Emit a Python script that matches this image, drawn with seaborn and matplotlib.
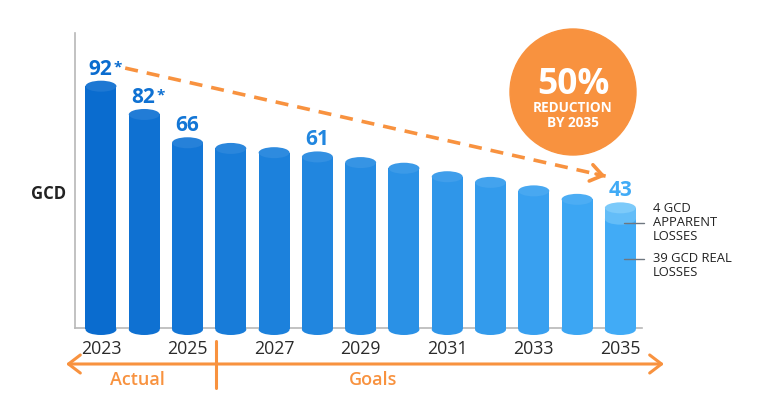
import numpy as np
import pandas as pd
import matplotlib
matplotlib.use("Agg")
import matplotlib.pyplot as plt
import matplotlib.colors as mcolors
from matplotlib.patches import Ellipse, FancyArrowPatch
from matplotlib.lines import Line2D
import seaborn as sns

# ---------------- data ----------------
years = [str(y) for y in range(2023, 2036)]
bar_values = [86, 76, 66, 64, 62.5, 61, 59, 57, 54, 52, 49, 46, 43]
value_labels = ["92*", "82*", "66", "", "", "61", "", "", "", "", "", "", "43"]
tick_years = ["2023", "2025", "2027", "2029", "2031", "2033", "2035"]
real_2035 = 39
apparent_2035 = 4
phase_labels = ["Actual", "Goals"]
badge_lines = ["50%", "REDUCTION", "BY 2035"]
apparent_text = ["4 GCD", "APPARENT", "LOSSES"]
real_text = ["39 GCD REAL", "LOSSES"]
y_title = "GCD"

# ---------------- style ----------------
sns.set_style("white")
plt.rcParams["font.family"] = ["Open Sans", "DejaVu Sans"]

W, H = 768, 413
ORANGE = "#f8923f"
GRAY = "#b8b8b8"

def fx(px):
    return px / W

def fy(py):
    return 1 - py / H

def lighten(c, t):
    c = np.array(mcolors.to_rgb(c))
    return mcolors.to_hex(c + (1 - c) * t)

c0 = np.array(mcolors.to_rgb("#0a6ccf"))
c1 = np.array(mcolors.to_rgb("#41abf6"))
palette = [mcolors.to_hex(c0 + (c1 - c0) * t) for t in np.linspace(0, 1, len(years))]

fig = plt.figure(figsize=(W / 100, H / 100), dpi=100)
ax = fig.add_axes([fx(75), fy(328), 567 / W, 295 / H])

df = pd.DataFrame({"year": years, "value": bar_values})
BW = 0.715
sns.barplot(data=df, x="year", y="value", hue="year", palette=palette,
            width=BW, legend=False, ax=ax, saturation=1, zorder=3)
for p in ax.patches:
    p.set_clip_on(False)
    p.set_linewidth(0)

ax.set_xlim(-0.6, 12.5)
ax.set_ylim(0.53, 104.8)
px_per_unit = 295 / (104.8 - 0.53)
EH = 11 / px_per_unit

# 2035 apparent-loss segment
light35 = "#63bdf8"
ax.bar(len(years) - 1, apparent_2035, bottom=real_2035, width=BW, color=light35,
       zorder=3.5, clip_on=False, linewidth=0)
ax.add_patch(Ellipse((len(years) - 1, real_2035), BW, EH, color=light35,
                     zorder=3.5, clip_on=False, linewidth=0))

for i, v in enumerate(bar_values):
    ax.add_patch(Ellipse((i, 0), BW, EH, color=palette[i], zorder=3,
                         clip_on=False, linewidth=0))
    top_col = lighten(palette[i], 0.08) if i < len(years) - 1 else "#7ccafa"
    ax.add_patch(Ellipse((i, v), BW, EH, color=top_col, zorder=4,
                         clip_on=False, linewidth=0))
    lab = value_labels[i]
    if lab:
        num = lab.rstrip("*")
        star = lab.endswith("*")
        ax.annotate(num, (i, v), xytext=(-1 if star else 0, 11.5),
                    textcoords="offset pixels", ha="center", va="baseline",
                    fontsize=15, fontweight="bold", color=palette[i],
                    zorder=5)
        if star:
            ax.annotate("*", (i, v), xytext=(12.5, 14.5),
                        textcoords="offset pixels", ha="left", va="baseline",
                        fontsize=11, fontweight="bold", color=palette[i],
                        zorder=5)

# axes styling
for s in ["top", "right"]:
    ax.spines[s].set_visible(False)
for s in ["left", "bottom"]:
    ax.spines[s].set_color(GRAY)
    ax.spines[s].set_linewidth(1.2)
    ax.spines[s].set_zorder(2)
ax.set_yticks([])
ax.set_xticks(np.arange(len(years)) + 0.5)
ax.set_xticklabels([])
ax.tick_params(axis="x", direction="in", length=4.3, width=1, color=GRAY)
ax.set_xlabel("")
ax.set_ylabel("")

for yl in tick_years:
    ax.text(years.index(yl), (328 - 354) / 295, yl, transform=ax.get_xaxis_transform(),
            ha="center", va="baseline", fontsize=12.8, color="#2a2a2a")

fig.text(fx(48.5), fy(199), y_title, ha="center", va="baseline",
         fontsize=12, fontweight="bold", color="#222222")

# dashed trend arrow
start = (0.56, 92.4)
tip = (len(years) - 1 - 0.34, bar_values[-1] + 11.2)
ax.plot([start[0], tip[0]], [start[1], tip[1]], color=ORANGE, lw=2.6,
        ls=(0, (3.6, 2.5)), clip_on=False, zorder=5, dash_capstyle="butt")
back = (tip[0] - 0.02 * (tip[0] - start[0]), tip[1] - 0.02 * (tip[1] - start[1]))
ax.annotate("", xy=tip, xytext=back,
            arrowprops=dict(arrowstyle="->,head_length=0.85,head_width=0.6",
                            lw=2.6, color=ORANGE, shrinkA=0, shrinkB=0,
                            mutation_scale=10), zorder=5)

# badge
fig.add_artist(Ellipse((fx(573), fy(92)), 126 / W, 126 / H,
                       transform=fig.transFigure, color=ORANGE, zorder=5))
fig.text(fx(573), fy(93.5), badge_lines[0], ha="center", va="baseline",
         fontsize=25.5, fontweight="bold", color="white", zorder=6)
fig.text(fx(573), fy(112), badge_lines[1], ha="center", va="baseline",
         fontsize=9.8, fontweight="bold", color="white", zorder=6)
fig.text(fx(573), fy(127), badge_lines[2], ha="center", va="baseline",
         fontsize=9.8, fontweight="bold", color="white", zorder=6)

# right annotations
for j, t in enumerate(apparent_text):
    fig.text(fx(653), fy(212 + 14 * j), t, ha="left", va="baseline",
             fontsize=9.4, color="#222222")
for j, t in enumerate(real_text):
    fig.text(fx(653), fy(262 + 14 * j), t, ha="left", va="baseline",
             fontsize=9.4, color="#222222")
for yy in (223, 259):
    fig.add_artist(Line2D([fx(624), fx(644)], [fy(yy), fy(yy)],
                          transform=fig.transFigure, color="#6f7780", lw=1, zorder=6))

# bottom timeline
fig.add_artist(FancyArrowPatch((fx(66), fy(364)), (fx(664), fy(364)),
                               transform=fig.transFigure,
                               arrowstyle="<->,head_length=0.85,head_width=0.65",
                               mutation_scale=10, lw=2.2, color=ORANGE,
                               shrinkA=0, shrinkB=0))
fig.add_artist(Line2D([fx(216), fx(216)], [fy(341), fy(388)],
                      transform=fig.transFigure, color=ORANGE, lw=2.2))
fig.text(fx(137), fy(385), phase_labels[0], ha="center", va="baseline",
         fontsize=13, fontweight="semibold", color=ORANGE)
fig.text(fx(373), fy(385), phase_labels[1], ha="center", va="baseline",
         fontsize=13, fontweight="semibold", color=ORANGE)

fig.savefig("out.png", dpi=100)
